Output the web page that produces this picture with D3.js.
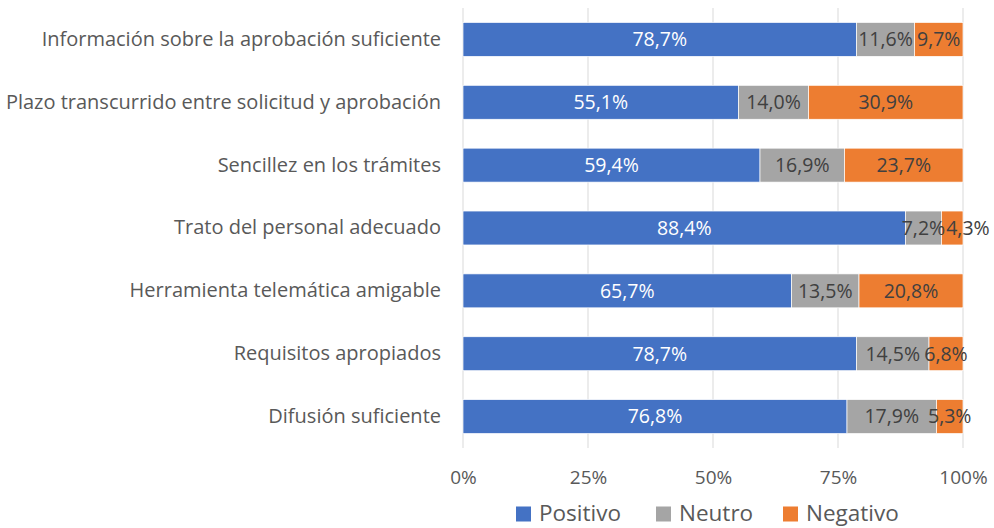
<!DOCTYPE html>
<html>
<head>
<meta charset="utf-8">
<script src="https://cdn.jsdelivr.net/npm/d3@7"></script>
<style>
  body { margin: 0; background: #fff; }
  text { font-family: "Open Sans", sans-serif; }
</style>
</head>
<body>
<div id="chart"></div>
<script>
// data, top to bottom
const categories = [
  "Información sobre la aprobación suficiente",
  "Plazo transcurrido entre solicitud y aprobación",
  "Sencillez en los trámites",
  "Trato del personal adecuado",
  "Herramienta telemática amigable",
  "Requisitos apropiados",
  "Difusión suficiente"
];
const positivo = [78.7, 55.1, 59.4, 88.4, 65.7, 78.7, 76.8];
const neutro   = [11.6, 14.0, 16.9, 7.2, 13.5, 14.5, 17.9];
const negativo = [9.7, 30.9, 23.7, 4.3, 20.8, 6.8, 5.3];
const seriesNames = ["Positivo", "Neutro", "Negativo"];
const colors = ["#4472C4", "#A5A5A5", "#ED7D31"];
const ticks = [0, 0.25, 0.5, 0.75, 1];

const width = 994, height = 528;
const margin = {top: 8, right: 31, bottom: 80, left: 463};

const svg = d3.select("#chart").append("svg")
  .attr("width", width).attr("height", height);

const rows = categories.map((c, i) => ({cat: c, Positivo: positivo[i], Neutro: neutro[i], Negativo: negativo[i]}));
const stacked = d3.stack().keys(seriesNames).offset(d3.stackOffsetExpand)(rows);

const x = d3.scaleLinear().domain([0, 1]).range([margin.left, width - margin.right]);
const y = d3.scaleBand().domain(categories).range([margin.top, height - margin.bottom]).paddingInner(0.46).paddingOuter(0.23);

// gridlines
svg.append("g").selectAll("line").data(ticks).join("line")
  .attr("x1", d => x(d)).attr("x2", d => x(d))
  .attr("y1", margin.top).attr("y2", height - margin.bottom)
  .attr("stroke", "#D9D9D9").attr("stroke-width", 1);

// bars
const groups = svg.append("g").selectAll("g").data(stacked).join("g")
  .attr("fill", (d, i) => colors[i]);
groups.selectAll("rect").data(d => d).join("rect")
  .attr("x", d => x(d[0]))
  .attr("width", d => x(d[1]) - x(d[0]))
  .attr("y", d => y(d.data.cat))
  .attr("height", y.bandwidth())
  .attr("stroke", "#fff").attr("stroke-width", 0.7);

// data labels, nudged right when they would collide with the previous one
const labelG = svg.append("g");
categories.forEach((cat, r) => {
  let prevRight = -Infinity;
  stacked.forEach((s, i) => {
    const d = s[r];
    const t = labelG.append("text")
      .attr("y", y(cat) + y.bandwidth() / 2)
      .attr("dy", "0.35em")
      .attr("font-size", 19.5)
      .attr("fill", i === 0 ? "#fff" : "#404040")
      .text(d.data[s.key].toFixed(1).replace(".", ",") + "%");
    const w = t.node().getComputedTextLength();
    let left = (x(d[0]) + x(d[1])) / 2 - w / 2;
    if (left < prevRight + 1) left = prevRight + 1;
    t.attr("x", left);
    prevRight = left + w;
  });
});

// category labels
const yAxis = d3.axisLeft(y).tickSize(0).tickPadding(22);
svg.append("g").attr("transform", `translate(${margin.left},0)`).call(yAxis)
  .call(g => g.select(".domain").remove())
  .selectAll("text").attr("font-size", 20).attr("fill", "#595959")
  .style("font-family", "'Open Sans', sans-serif");

// x axis
const xAxis = d3.axisBottom(x).tickValues(ticks).tickFormat(d3.format(".0%")).tickSize(0).tickPadding(23);
svg.append("g").attr("transform", `translate(0,${height - margin.bottom})`).call(xAxis)
  .call(g => g.select(".domain").remove())
  .selectAll("text").attr("font-size", 19).attr("fill", "#595959")
  .style("font-family", "'Open Sans', sans-serif");

// legend
const legendX = [516, 656, 783];
const legend = svg.append("g").selectAll("g").data(seriesNames).join("g")
  .attr("transform", (d, i) => `translate(${legendX[i]},514)`);
legend.append("rect").attr("x", 0).attr("y", -7.5).attr("width", 15).attr("height", 15)
  .attr("fill", (d, i) => colors[i]);
legend.append("text").attr("x", 23).attr("dy", "0.33em")
  .attr("font-size", 22.5).attr("fill", "#595959").text(d => d);
</script>
</body>
</html>
